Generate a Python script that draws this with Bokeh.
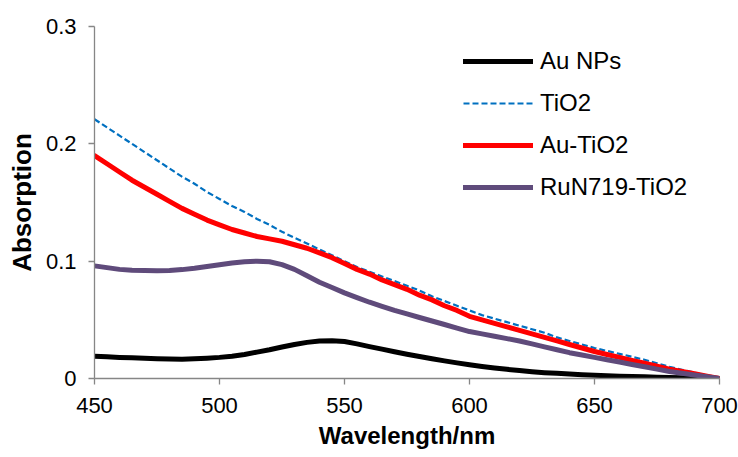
from bokeh.plotting import figure
from bokeh.models import FixedTicker, Legend, LegendItem
from bokeh.embed import file_html
from bokeh.resources import INLINE

# ---- data (every 5 nm) ----
wavelength = list(range(450, 701, 5))
au_nps = [0.0190, 0.0185, 0.0180, 0.0176, 0.0172, 0.0168, 0.0166, 0.0165, 0.0168, 0.0173,
          0.0180, 0.0190, 0.0205, 0.0225, 0.0245, 0.0268, 0.0290, 0.0308, 0.0320, 0.0322,
          0.0315, 0.0295, 0.0272, 0.0250, 0.0228, 0.0207, 0.0188, 0.0168, 0.0150, 0.0133,
          0.0117, 0.0103, 0.0090, 0.0078, 0.0068, 0.0058, 0.0050, 0.0044, 0.0038, 0.0033,
          0.0028, 0.0024, 0.0020, 0.0017, 0.0014, 0.0011, 0.0008, 0.0006, 0.0004, 0.0002,
          0.0000]
tio2 = [0.221, 0.214, 0.207, 0.200, 0.193, 0.186, 0.179, 0.172, 0.166, 0.159,
        0.153, 0.147, 0.142, 0.136, 0.131, 0.125, 0.120, 0.115, 0.110, 0.105,
        0.100, 0.095, 0.091, 0.087, 0.083, 0.079, 0.075, 0.070, 0.066, 0.062,
        0.058, 0.054, 0.051, 0.048, 0.045, 0.042, 0.039, 0.035, 0.032, 0.029,
        0.026, 0.0235, 0.021, 0.0185, 0.016, 0.013, 0.010, 0.0075, 0.005, 0.0025,
        0.000]
au_tio2 = [0.190, 0.183, 0.176, 0.169, 0.163, 0.157, 0.151, 0.145, 0.140, 0.135,
           0.131, 0.127, 0.124, 0.121, 0.119, 0.117, 0.114, 0.111, 0.107, 0.103,
           0.098, 0.093, 0.089, 0.084, 0.080, 0.076, 0.071, 0.067, 0.062, 0.058,
           0.053, 0.050, 0.047, 0.044, 0.041, 0.038, 0.035, 0.032, 0.029, 0.026,
           0.023, 0.0205, 0.018, 0.0155, 0.013, 0.0105, 0.008, 0.006, 0.004, 0.002,
           0.000]
run719_tio2 = [0.096, 0.0945, 0.093, 0.0922, 0.092, 0.0918, 0.092, 0.0928, 0.094, 0.0955,
               0.097, 0.0985, 0.0995, 0.100, 0.0995, 0.097, 0.093, 0.0875, 0.082, 0.0775,
               0.073, 0.069, 0.065, 0.0615, 0.058, 0.055, 0.052, 0.049, 0.046, 0.043,
               0.040, 0.038, 0.036, 0.034, 0.032, 0.0295, 0.027, 0.0245, 0.022, 0.020,
               0.018, 0.016, 0.014, 0.012, 0.010, 0.008, 0.006, 0.0045, 0.003, 0.0015,
               0.000]
series_names = ["Au NPs", "TiO2", "Au-TiO2", "RuN719-TiO2"]
x_ticks = [450, 500, 550, 600, 650, 700]
y_ticks = [0, 0.1, 0.2, 0.3]
y_tick_labels = ["0", "0.1", "0.2", "0.3"]
x_title = "Wavelength/nm"
y_title = "Absorption"

FONT = "Liberation Sans"
AXIS_GRAY = "#868686"

p = figure(width=738, height=457, output_backend="svg", toolbar_location=None,
           x_range=(450, 700), y_range=(0, 0.3),
           min_border_left=94, min_border_right=19, min_border_top=26,
           min_border_bottom=79)
p.outline_line_color = None
p.background_fill_color = "white"
p.border_fill_color = "white"
p.xgrid.visible = False
p.ygrid.visible = False

# axes
for ax in (p.xaxis[0], p.yaxis[0]):
    ax.axis_line_color = AXIS_GRAY
    ax.axis_line_width = 1.3
    ax.major_tick_line_color = AXIS_GRAY
    ax.major_tick_line_width = 1.3
    ax.major_tick_in = 0
    ax.major_tick_out = 6
    ax.minor_tick_line_color = None
    ax.major_label_text_font = FONT
    ax.major_label_text_font_size = "22px"
    ax.major_label_text_color = "black"
    ax.axis_label_text_font = FONT
    ax.axis_label_text_font_style = "bold"
    ax.axis_label_text_color = "black"

p.xaxis[0].ticker = FixedTicker(ticks=x_ticks)
p.yaxis[0].ticker = FixedTicker(ticks=y_ticks)
p.yaxis[0].major_label_overrides = {t: s for t, s in zip(y_ticks, y_tick_labels)}
p.xaxis[0].axis_label = x_title
p.xaxis[0].axis_label_text_font_size = "24px"
p.yaxis[0].axis_label = y_title
p.yaxis[0].axis_label_text_font_size = "26px"
p.xaxis[0].major_label_standoff = 13
p.xaxis[0].axis_label_standoff = 6
p.yaxis[0].major_label_standoff = 12
p.yaxis[0].axis_label_standoff = 6

# lines
r1 = p.line(wavelength, au_nps, line_color="#000000", line_width=5,
            line_cap="round", line_join="round")
r2 = p.line(wavelength, tio2, line_color="#0070C0", line_width=2.2,
            line_dash="6 3")
r3 = p.line(wavelength, au_tio2, line_color="#FF0000", line_width=5,
            line_cap="round", line_join="round")
r4 = p.line(wavelength, run719_tio2, line_color="#5F4B7B", line_width=5,
            line_cap="round", line_join="round")

legend = Legend(items=[LegendItem(label=n, renderers=[r]) for n, r in
                       zip(series_names, [r1, r2, r3, r4])],
                location=(369, 177))
legend.background_fill_alpha = 0
legend.border_line_color = None
legend.padding = 0
legend.margin = 0
legend.glyph_width = 70
legend.glyph_height = 20
legend.label_height = 20
legend.label_standoff = 7
legend.spacing = 14
legend.label_text_font = FONT
legend.label_text_font_size = "24px"
legend.label_text_color = "black"
p.add_layout(legend)

open("out.html", "w").write(file_html(p, INLINE))
